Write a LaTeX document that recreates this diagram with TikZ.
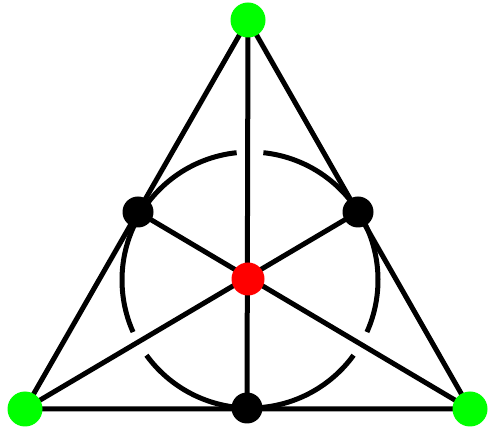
\documentclass[tikz,border=0pt]{standalone}
\usetikzlibrary{calc}

\tikzset{
  edge/.style={line width=5pt, black},
  corner/.style={circle, fill=green, inner sep=0pt, minimum size=35pt},
  side/.style={circle, fill=black, inner sep=0pt, minimum size=31pt},
  centre/.style={circle, fill=red, inner sep=0pt, minimum size=33pt}
}

\begin{document}
\begin{tikzpicture}[x=1pt,y=1pt]
  \useasboundingbox (0,0) rectangle (489,430);

  % points of the plane
  \coordinate (A) at (248,410);
  \coordinate (B) at (25,21);
  \coordinate (C) at (470,21);
  \coordinate (AB) at (138,218);
  \coordinate (AC) at (358,218);
  \coordinate (BC) at (247,22);
  \coordinate (O) at (248,151);

  % lines
  \draw[edge] (A) -- (B) -- (C) -- cycle;
  \draw[edge] (A) -- (BC);
  \draw[edge] (B) -- (AC);
  \draw[edge] (C) -- (AB);

  % the broken circle
  \coordinate (M) at (250,150);
  \foreach \s/\e in {96/204, 216/324, 336/444}
    \draw[edge] ([shift=(\s:128)]M) arc[start angle=\s, end angle=\e, radius=128];

  % dots
  \node[corner] (a) at (A) {};
  \node[corner] (b) at (B) {};
  \node[corner] (c) at (C) {};
  \node[side] (ab) at (AB) {};
  \node[side] (ac) at (AC) {};
  \node[side] (bc) at (BC) {};
  \node[centre] (o) at (O) {};
\end{tikzpicture}
\end{document}
